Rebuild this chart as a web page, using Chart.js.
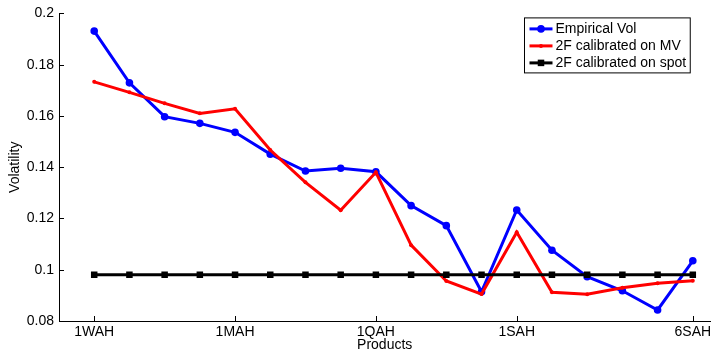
<!DOCTYPE html>
<html>
<head>
<meta charset="utf-8">
<script src="https://cdn.jsdelivr.net/npm/chart.js@4/dist/chart.umd.min.js"></script>
<style>
  body { margin: 0; background: #fff; }
</style>
</head>
<body>
<canvas id="volChart" width="715" height="353"></canvas>
<script>
// products on the x axis, only some of them carry a label
const products = ['1WAH', '', '', '', '1MAH', '', '', '', '1QAH', '', '', '', '1SAH', '', '', '', '', '6SAH'];
const empiricalVol = [0.1931, 0.1729, 0.1597, 0.1571, 0.1536, 0.1451, 0.1385, 0.1396, 0.1382,
  0.1250, 0.1172, 0.0914, 0.1233, 0.1076, 0.0973, 0.0918, 0.0843, 0.1035];
const calibratedMV = [0.1733, 0.1692, 0.1649, 0.1610, 0.1628, 0.1467, 0.1341, 0.1232, 0.1380,
  0.1096, 0.0956, 0.0905, 0.1146, 0.0912, 0.0904, 0.0930, 0.0947, 0.0957];
const calibratedSpot = [0.098, 0.098, 0.098, 0.098, 0.098, 0.098, 0.098, 0.098, 0.098,
  0.098, 0.098, 0.098, 0.098, 0.098, 0.098, 0.098, 0.098, 0.098];
const yTicks = [0.08, 0.1, 0.12, 0.14, 0.16, 0.18, 0.2];

const FONT = 'Liberation Sans, Arial, Helvetica, sans-serif';

function toPoints(values) {
  return values.map((v, i) => ({ x: i + 1, y: v }));
}

// inward tick marks and a boxed legend, matlab style
const matlabBits = {
  id: 'matlabBits',
  beforeDatasetsDraw(chart) {
    const ctx = chart.ctx, a = chart.chartArea;
    const xs = chart.scales.x, ys = chart.scales.y;
    ctx.save();
    ctx.strokeStyle = '#000';
    ctx.lineWidth = 1;
    ctx.beginPath();
    ys.ticks.forEach(t => {
      const py = Math.round(ys.getPixelForValue(t.value)) + 0.5;
      ctx.moveTo(a.left, py);
      ctx.lineTo(a.left + 5, py);
    });
    xs.ticks.forEach(t => {
      const px = Math.round(xs.getPixelForValue(t.value)) + 0.5;
      ctx.moveTo(px, a.bottom);
      ctx.lineTo(px, a.bottom - 5);
    });
    ctx.stroke();
    ctx.restore();
  },
  afterDraw(chart) {
    const ctx = chart.ctx, a = chart.chartArea;
    const sets = chart.data.datasets;
    ctx.save();
    ctx.font = '14px ' + FONT;
    let textW = 0;
    sets.forEach(d => { textW = Math.max(textW, ctx.measureText(d.label).width); });
    const w = 5 + 23 + 3 + textW + 4;
    const h = 55;
    const right = a.right - 21;
    const left = Math.round(right - w) + 0.5;
    const top = a.top + 4.5;
    ctx.fillStyle = '#fff';
    ctx.fillRect(left, top, w, h);
    ctx.strokeStyle = '#000';
    ctx.lineWidth = 1;
    ctx.strokeRect(left, top, w, h);
    sets.forEach((d, i) => {
      const cy = top + 11 + i * 17;
      const x0 = left + 5, x1 = left + 28, cx = (x0 + x1) / 2;
      ctx.strokeStyle = d.borderColor;
      ctx.lineWidth = d.borderWidth;
      ctx.beginPath();
      ctx.moveTo(x0, cy);
      ctx.lineTo(x1, cy);
      ctx.stroke();
      ctx.fillStyle = d.borderColor;
      if (d.pointStyle === 'rect') {
        const s = d.pointRadius * Math.SQRT1_2;
        ctx.fillRect(cx - s, cy - s, 2 * s, 2 * s);
      } else {
        ctx.beginPath();
        ctx.arc(cx, cy, d.pointRadius, 0, Math.PI * 2);
        ctx.fill();
      }
      ctx.fillStyle = '#000';
      ctx.textBaseline = 'middle';
      ctx.textAlign = 'left';
      ctx.fillText(d.label, x1 + 3, cy + 0.5);
    });
    ctx.restore();
  }
};

const ctx = document.getElementById('volChart');
new Chart(ctx, {
  type: 'line',
  data: {
    datasets: [{
      label: 'Empirical Vol',
      data: toPoints(empiricalVol),
      borderColor: '#0000ff',
      backgroundColor: '#0000ff',
      borderWidth: 3,
      pointStyle: 'circle',
      pointRadius: 3.8,
      pointBorderWidth: 0,
      order: 2
    },
    {
      label: '2F calibrated on MV',
      data: toPoints(calibratedMV),
      borderColor: '#ff0000',
      backgroundColor: '#ff0000',
      borderWidth: 3,
      pointStyle: 'circle',
      pointRadius: 2,
      pointBorderWidth: 0,
      order: 1
    },
    {
      label: '2F calibrated on spot',
      data: toPoints(calibratedSpot),
      borderColor: '#000000',
      backgroundColor: '#000000',
      borderWidth: 3,
      pointStyle: 'rect',
      pointRadius: 4.6,
      pointBorderWidth: 0,
      order: 0
    }]
  },
  options: {
    responsive: false,
    animation: false,
    devicePixelRatio: 1,
    layout: { padding: { top: 13, right: 3, left: 0, bottom: 0 } },
    elements: { line: { tension: 0 } },
    plugins: {
      legend: { display: false },
      tooltip: { enabled: false }
    },
    scales: {
      x: {
        type: 'linear',
        min: 0,
        max: 18.5,
        afterBuildTicks: scale => {
          scale.ticks = products.map((p, i) => ({ value: i + 1, label: p })).filter(t => t.label);
        },
        afterFit: scale => { scale.height = 32; },
        grid: { display: false, drawTicks: false },
        border: { display: true, color: '#000', width: 1 },
        ticks: {
          autoSkip: false,
          maxRotation: 0,
          padding: 3,
          color: '#000',
          font: { family: FONT, size: 14 },
          callback: v => products[v - 1] || ''
        },
        title: {
          display: true,
          text: 'Products',
          color: '#000',
          font: { family: FONT, size: 14, lineHeight: 1.1 },
          padding: { top: 0, bottom: 0 }
        }
      },
      y: {
        min: 0.08,
        max: 0.2,
        afterBuildTicks: scale => {
          scale.ticks = yTicks.map(v => ({ value: v }));
        },
        afterFit: scale => { scale.width = 59; },
        grid: { display: false, drawTicks: false },
        border: { display: true, color: '#000', width: 1 },
        ticks: {
          padding: 5,
          color: '#000',
          font: { family: FONT, size: 14 },
          callback: v => String(Number(v.toFixed(2)))
        },
        title: {
          display: true,
          text: 'Volatility',
          color: '#000',
          font: { family: FONT, size: 14 },
          padding: { top: 7, bottom: 0 }
        }
      }
    }
  },
  plugins: [matlabBits]
});
</script>
</body>
</html>
